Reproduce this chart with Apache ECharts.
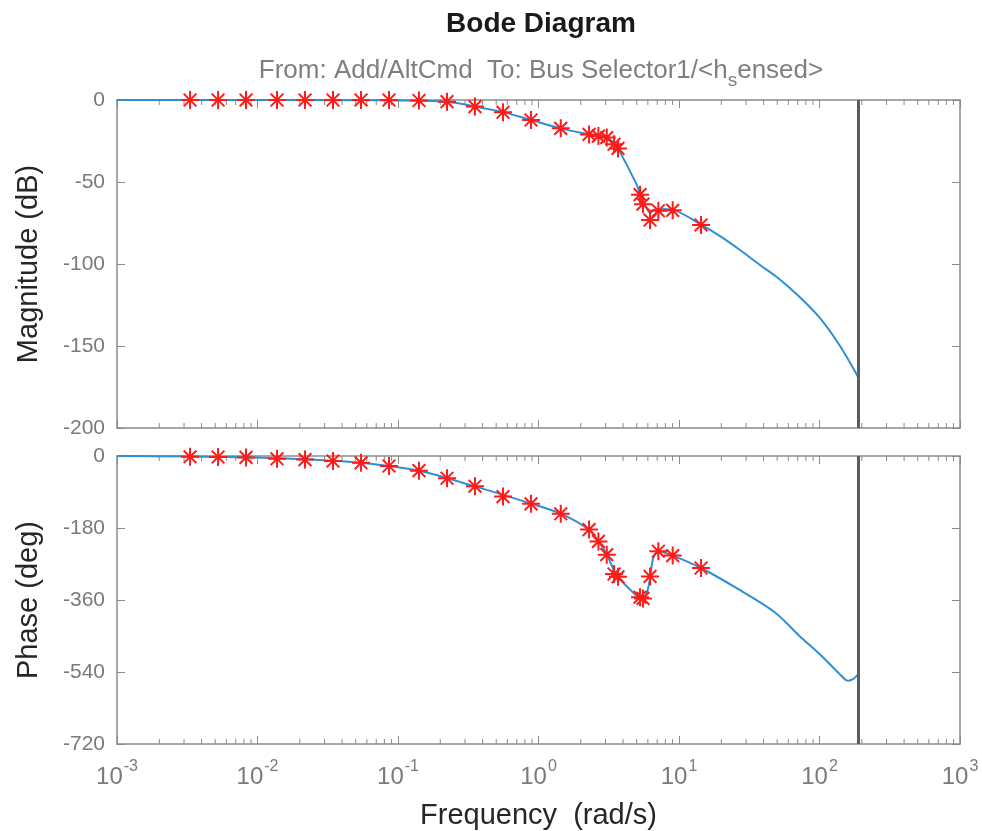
<!DOCTYPE html>
<html>
<head>
<meta charset="utf-8">
<script src="https://cdn.jsdelivr.net/npm/echarts@6/dist/echarts.min.js"></script>
<style>
html,body{margin:0;padding:0;background:#fff;}
#chart{width:982px;height:831px;}
</style>
</head>
<body>
<div id="chart"></div>
<script>
// ---- data ----
const magLineFreq = [0.001, 0.0863, 0.141, 0.2233, 0.353, 0.559, 0.885, 1.44, 2.29, 2.67, 3.06, 3.45, 3.68, 5.0, 5.28, 5.54, 5.89, 6.22, 6.56, 7.13, 9.02, 14.35, 19.6, 27.2, 37.7, 50.7, 71.0, 100.9, 140, 188.5];
const magLineDb   = [0, -0.1, -0.4, -1.1, -3.9, -7.4, -12.2, -17.3, -21, -22, -23, -26.5, -29.5, -51.6, -57.5, -63, -66, -69, -67, -66.5, -67, -76, -83, -91.5, -100.6, -108.5, -119.5, -133, -150, -169];

const phaseLineFreq = [0.001, 0.00331, 0.00828, 0.02179, 0.05455, 0.141, 0.353, 0.885, 1.44, 2.29, 2.67, 3.06, 3.6, 5.0, 5.36, 5.89, 6.22, 6.56, 7.13, 9.02, 14.35, 25.9, 47.8, 72.6, 100.9, 140, 159.6, 173, 188.5];
const phaseLineDeg  = [0, -1.5, -3, -8, -17, -37, -76, -119, -144, -184, -213, -246, -298, -350, -356, -342, -305, -255, -238, -249, -280, -331, -390, -451, -496, -546, -562, -558, -546];

const markerFreq  = [0.00331, 0.00524, 0.00828, 0.01377, 0.02179, 0.03446, 0.05455, 0.0863, 0.141, 0.2233, 0.353, 0.559, 0.885, 1.44, 2.29, 2.67, 3.06, 3.45, 3.68, 5.28, 5.54, 6.22, 7.13, 9.02, 14.35];
const markerMag   = [0, 0, 0, 0, 0, 0, 0, 0, -0.3, -1.0, -4.0, -7.5, -12.2, -17.3, -21, -22, -22.9, -27, -29.5, -57.7, -63.5, -73.2, -67.5, -67.3, -76.2];
const markerPhase = [-2, -2.5, -3.5, -7, -9, -12.5, -17, -25, -36.6, -55.6, -75.5, -101.4, -119.6, -144.5, -184, -213.5, -246.6, -295, -302, -353, -356, -301, -238, -249, -280];

const nyquistFreq = 188.5;
const magTicks = [0, -50, -100, -150, -200];
const phaseTicks = [0, -180, -360, -540, -720];
const freqMin = 0.001, freqMax = 1000;
const decades = [0.001, 0.01, 0.1, 1, 10, 100];
const minorMultipliers = [2, 3, 4, 5, 6, 7, 8, 9];

// ---- styling ----
const FONT = "'Liberation Sans', Arial, Helvetica, sans-serif";
const AX = '#8a8a8a';
const LBL = '#7a7a7a';
const LINE = '#2f8fd3';

const minorTicks = [];
decades.forEach(d => minorMultipliers.forEach(m => minorTicks.push([d * m, 0])));

const pair = (xs, ys) => xs.map((x, i) => [x, ys[i]]);

const starPath = 'path://M0,-10L0,10M-10,0L10,0M-7.07,-7.07L7.07,7.07M-7.07,7.07L7.07,-7.07';

function xAxisPair(gridIndex, showLabels) {
  const base = {
    type: 'log', logBase: 10, min: freqMin, max: freqMax, gridIndex,
    axisLine: { show: true, onZero: false, lineStyle: { color: AX, width: 1.5 } },
    axisTick: { show: true, inside: true, length: 8, lineStyle: { color: AX, width: 1 } },
    splitLine: { show: false }, minorTick: { show: false }
  };
  return [
    Object.assign({}, base, {
      position: 'bottom',
      axisLabel: showLabels ? {
        show: true, margin: 15,
        formatter: v => '{b|10}{e|' + Math.round(Math.log10(v)) + '}',
        rich: {
          b: { fontFamily: FONT, fontSize: 24, color: LBL, lineHeight: 30, verticalAlign: 'bottom' },
          e: { fontFamily: FONT, fontSize: 16, color: LBL, lineHeight: 30, verticalAlign: 'top', padding: [0, 0, 0, 1] }
        }
      } : { show: false },
      name: showLabels ? 'Frequency  (rad/s)' : '',
      nameLocation: 'middle', nameGap: 57,
      nameTextStyle: { fontFamily: FONT, fontSize: 29, color: '#262626' }
    }),
    Object.assign({}, base, { position: 'top', axisLabel: { show: false } })
  ];
}

function yAxisPair(gridIndex, min, max, interval, name, nameGap) {
  const base = {
    type: 'value', min, max, interval, gridIndex,
    axisLine: { show: true, onZero: false, lineStyle: { color: AX, width: 1.5 } },
    axisTick: { show: true, inside: true, length: 8, lineStyle: { color: AX, width: 1 } },
    splitLine: { show: false }
  };
  return [
    Object.assign({}, base, {
      position: 'left',
      axisLabel: { show: true, margin: 12, fontFamily: FONT, fontSize: 21, color: LBL },
      name, nameLocation: 'middle', nameGap, nameRotate: 90,
      nameTextStyle: { fontFamily: FONT, fontSize: 29, color: '#262626' }
    }),
    Object.assign({}, base, { position: 'right', axisLabel: { show: false } })
  ];
}

function minorTickSeries(xi, yi, ymin, ymax) {
  return {
    type: 'custom', xAxisIndex: xi, yAxisIndex: yi, silent: true, z: 1,
    data: minorTicks, encode: { x: 0, y: 1 }, clip: false,
    renderItem: (params, api) => {
      const x = api.value(0);
      const b = api.coord([x, ymin]);
      const t = api.coord([x, ymax]);
      const st = { stroke: AX, lineWidth: 1 };
      return { type: 'group', children: [
        { type: 'line', shape: { x1: b[0], y1: b[1], x2: b[0], y2: b[1] - 5 }, style: st },
        { type: 'line', shape: { x1: t[0], y1: t[1], x2: t[0], y2: t[1] + 5 }, style: st }
      ]};
    }
  };
}

const nyq = {
  silent: true, symbol: 'none', label: { show: false },
  lineStyle: { color: '#5c5c5c', width: 3, type: 'solid' },
  data: [{ xAxis: nyquistFreq }]
};

const chart = echarts.init(document.getElementById('chart'), null, { renderer: 'canvas' });
const option = {
  backgroundColor: '#ffffff',
  animation: false,
  title: [
    { text: 'Bode Diagram', left: 536, top: 5, textAlign: 'center',
      textStyle: { fontFamily: FONT, fontSize: 28, fontWeight: 'bold', color: '#1a1a1a' } },
    { text: '{a|From: Add/AltCmd  To: Bus Selector1/<h}{s|s}{a|ensed>}', left: 536, top: 53, textAlign: 'center',
      textStyle: { fontWeight: 'normal', rich: {
        a: { fontFamily: FONT, fontSize: 26, fontWeight: 'normal', color: '#7f7f7f', lineHeight: 32, verticalAlign: 'top' },
        s: { fontFamily: FONT, fontSize: 19, fontWeight: 'normal', color: '#7f7f7f', lineHeight: 32, verticalAlign: 'bottom' }
      } } }
  ],
  grid: [
    { left: 117, right: 22, top: 100, height: 328, containLabel: false },
    { left: 117, right: 22, top: 456, height: 289, containLabel: false }
  ],
  xAxis: [].concat(xAxisPair(0, false), xAxisPair(1, true)),
  yAxis: [].concat(
    yAxisPair(0, magTicks[magTicks.length - 1], magTicks[0], 50, 'Magnitude (dB)', 74),
    yAxisPair(1, phaseTicks[phaseTicks.length - 1], phaseTicks[0], 180, 'Phase (deg)', 74)
  ),
  series: [
    minorTickSeries(0, 0, -200, 0),
    minorTickSeries(2, 2, -720, 0),
    { type: 'line', xAxisIndex: 0, yAxisIndex: 0, data: pair(magLineFreq, magLineDb),
      showSymbol: false, smooth: 0.3, lineStyle: { color: LINE, width: 2 }, z: 3, markLine: nyq },
    { type: 'line', xAxisIndex: 2, yAxisIndex: 2, data: pair(phaseLineFreq, phaseLineDeg),
      showSymbol: false, smooth: 0.3, lineStyle: { color: LINE, width: 2 }, z: 3, markLine: nyq },
    { type: 'scatter', xAxisIndex: 0, yAxisIndex: 0, data: pair(markerFreq, markerMag),
      symbol: starPath, symbolSize: 18, z: 5,
      itemStyle: { color: 'rgba(0,0,0,0)', borderColor: '#ff1a1a', borderWidth: 2, opacity: 1 } },
    { type: 'scatter', xAxisIndex: 2, yAxisIndex: 2, data: pair(markerFreq, markerPhase),
      symbol: starPath, symbolSize: 18, z: 5,
      itemStyle: { color: 'rgba(0,0,0,0)', borderColor: '#ff1a1a', borderWidth: 2, opacity: 1 } }
  ]
};
chart.setOption(option);
</script>
</body>
</html>
